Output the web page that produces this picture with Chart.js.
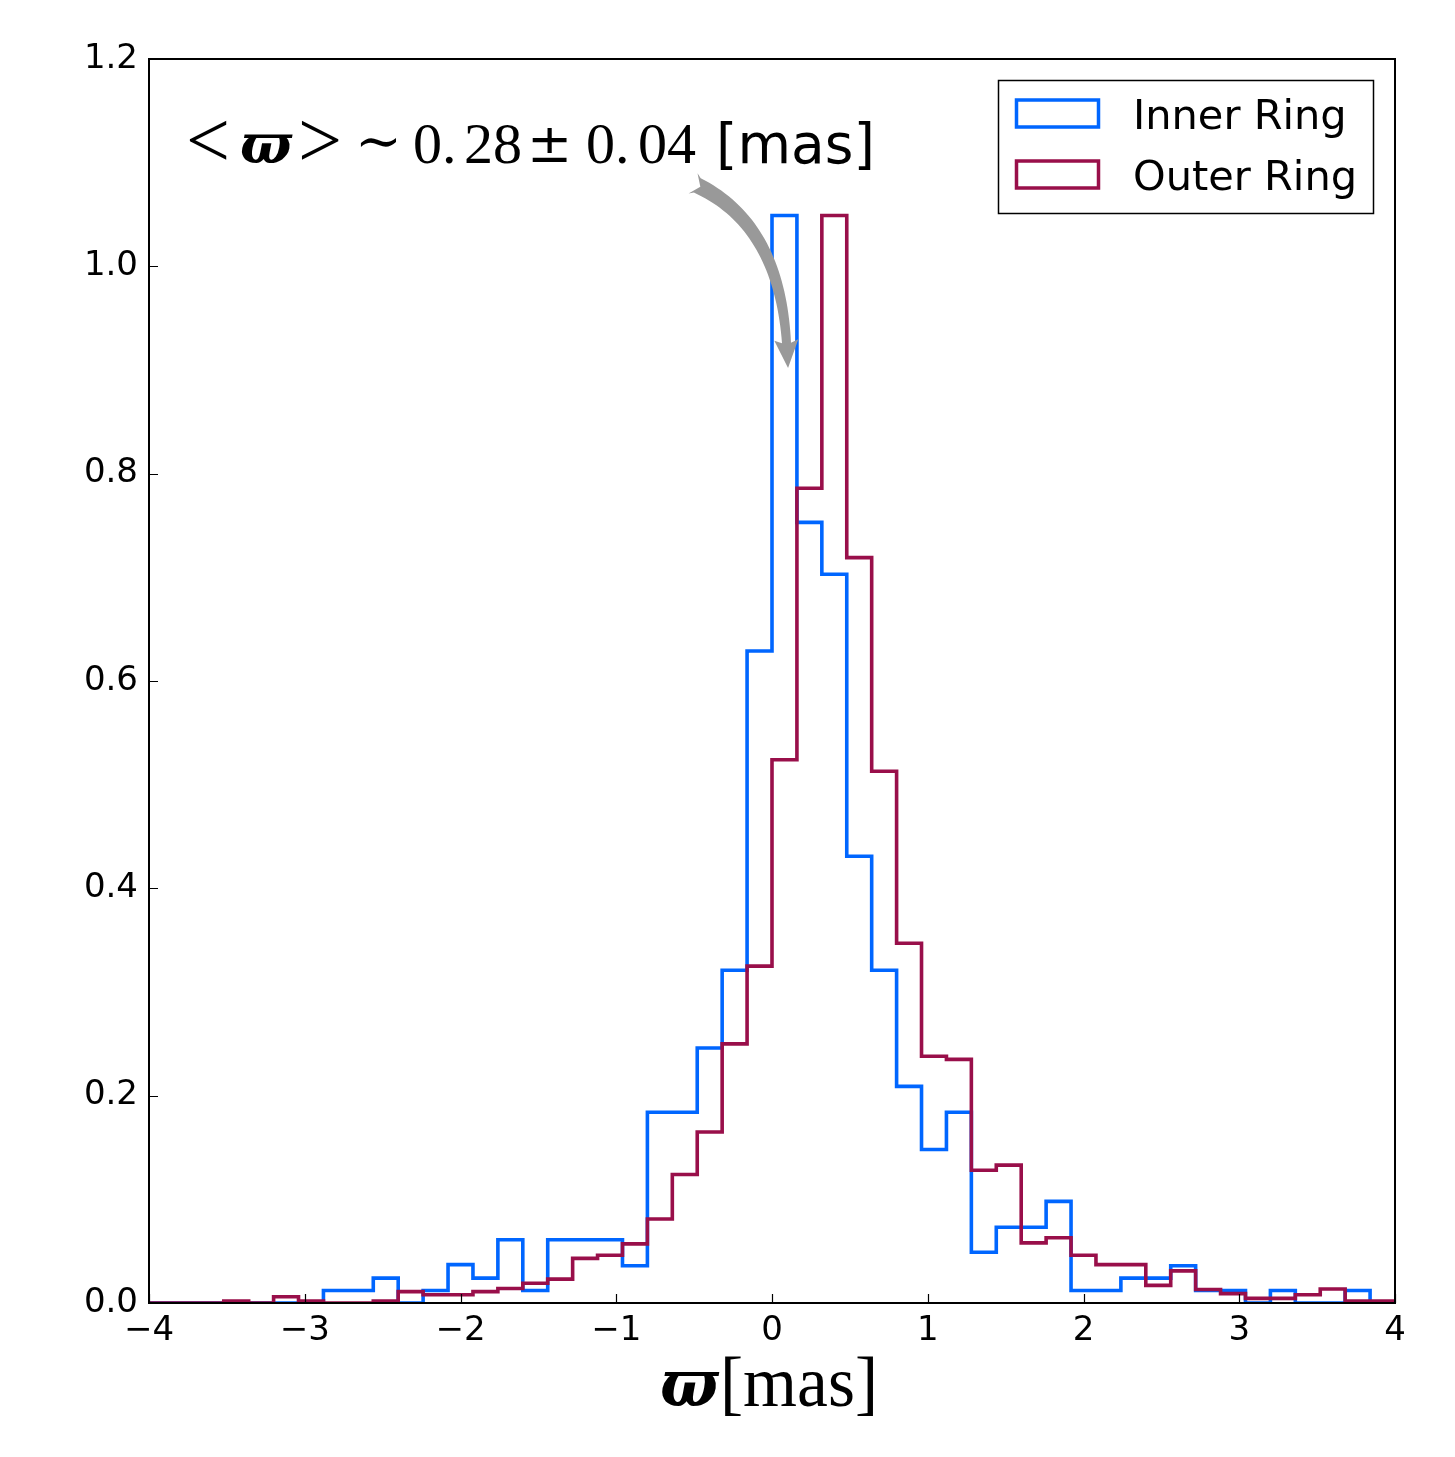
<!DOCTYPE html>
<html><head><meta charset="utf-8">
<script src="https://cdn.jsdelivr.net/npm/chart.js@4.4.0/dist/chart.umd.min.js"></script>
<style>html,body{margin:0;padding:0;background:#fff;}#wrap{width:1455px;height:1457px;}</style>
</head><body><div id="wrap"><canvas id="c" width="1455" height="1457"></canvas></div>
<script>
// ---- data ----
const binEdges = [-4.00,-3.84,-3.68,-3.52,-3.36,-3.20,-3.04,-2.88,-2.72,-2.56,-2.40,-2.24,-2.08,-1.92,-1.76,-1.60,-1.44,-1.28,-1.12,-0.96,-0.80,-0.64,-0.48,-0.32,-0.16,0.00,0.16,0.32,0.48,0.64,0.80,0.96,1.12,1.28,1.44,1.60,1.76,1.92,2.08,2.24,2.40,2.56,2.72,2.88,3.04,3.20,3.36,3.52,3.68,3.84,4.00];
const innerRing = [0,0,0,0,0,0,0,0.012,0.012,0.024,0,0.012,0.037,0.024,0.061,0.012,0.061,0.061,0.061,0.036,0.184,0.184,0.246,0.321,0.629,1.049,0.753,0.703,0.431,0.321,0.209,0.148,0.184,0.049,0.073,0.073,0.098,0.012,0.012,0.024,0.024,0.036,0.012,0.012,0,0.012,0,0,0.012,0];
const outerRing = [0,0,0,0.002,0,0.006,0.002,0,0,0.002,0.011,0.008,0.008,0.011,0.014,0.019,0.023,0.043,0.046,0.057,0.081,0.124,0.165,0.250,0.325,0.524,0.786,1.049,0.719,0.513,0.347,0.238,0.235,0.128,0.133,0.058,0.063,0.046,0.037,0.037,0.017,0.031,0.013,0.009,0.0045,0.0045,0.008,0.0135,0.002,0.002];
const xTicks = [-4,-3,-2,-1,0,1,2,3,4];
const yTicks = [0,0.2,0.4,0.6,0.8,1.0,1.2];
const seriesLabels = ['Inner Ring','Outer Ring'];
const seriesColors = ['#0066ff','#990f4a'];
const annotationArrow = {from:{x:-0.507,y:1.080}, ctrl:{x:0.045,y:1.043}, to:{x:0.103,y:0.902}};

function stepPoints(vals){
  const pts=[{x:binEdges[0],y:0}];
  for(let i=0;i<vals.length;i++) pts.push({x:binEdges[i],y:vals[i]});
  pts.push({x:binEdges[binEdges.length-1],y:0});
  return pts;
}

const decor = {
  id:'decor',
  afterDatasetsDraw(chart){
    const ctx=chart.ctx, a=chart.chartArea, xs=chart.scales.x, ys=chart.scales.y;
    ctx.save();
    // frame
    ctx.strokeStyle='#000'; ctx.lineWidth=2;
    ctx.strokeRect(a.left,a.top,a.right-a.left,a.bottom-a.top);
    // inward ticks
    ctx.lineWidth=1.2; ctx.beginPath();
    xTicks.forEach(v=>{const p=Math.round(xs.getPixelForValue(v))+0.5; ctx.moveTo(p,a.bottom); ctx.lineTo(p,a.bottom-9);});
    yTicks.forEach(v=>{const p=Math.round(ys.getPixelForValue(v))+0.5; ctx.moveTo(a.left,p); ctx.lineTo(a.left+9,p);});
    ctx.stroke();

    // arrow
    const P0={x:xs.getPixelForValue(annotationArrow.from.x),y:ys.getPixelForValue(annotationArrow.from.y)};
    const P1={x:xs.getPixelForValue(annotationArrow.ctrl.x),y:ys.getPixelForValue(annotationArrow.ctrl.y)};
    const T={x:xs.getPixelForValue(annotationArrow.to.x),y:ys.getPixelForValue(annotationArrow.to.y)};
    let dx=T.x-P1.x, dy=T.y-P1.y, dl=Math.hypot(dx,dy); dx/=dl; dy/=dl;
    const B={x:T.x-dx*25,y:T.y-dy*25};
    const N=40, L=[], R=[]; let t0=null;
    for(let i=0;i<=N;i++){
      const t=i/N, u=1-t;
      const px=u*u*P0.x+2*u*t*P1.x+t*t*B.x, py=u*u*P0.y+2*u*t*P1.y+t*t*B.y;
      let tx=2*u*(P1.x-P0.x)+2*t*(B.x-P1.x), ty=2*u*(P1.y-P0.y)+2*t*(B.y-P1.y);
      const tl=Math.hypot(tx,ty); tx/=tl; ty/=tl;
      const nx=-ty, ny=tx;
      let w=8-3.5*t; if(i===0) w=11;
      L.push({x:px+nx*w,y:py+ny*w}); R.push({x:px-nx*w,y:py-ny*w});
      if(i===0){ t0={x:tx,y:ty}; }
    }
    const nx=-dy, ny=dx;
    ctx.fillStyle='#999999';
    ctx.beginPath();
    ctx.moveTo(R[0].x,R[0].y);
    ctx.lineTo(P0.x+t0.x*8,P0.y+t0.y*8);
    ctx.lineTo(L[0].x,L[0].y);
    for(let i=1;i<=N;i++) ctx.lineTo(L[i].x,L[i].y);
    ctx.lineTo(B.x+nx*12-dx*3,B.y+ny*12-dy*3);
    ctx.lineTo(T.x,T.y);
    ctx.lineTo(B.x-nx*12-dx*3,B.y-ny*12-dy*3);
    for(let i=N;i>=0;i--) ctx.lineTo(R[i].x,R[i].y);
    ctx.closePath(); ctx.fill();

    // annotation text
    ctx.fillStyle='#000'; ctx.textAlign='left'; ctx.textBaseline='alphabetic';
    const by=163;
    const serif="58px 'Liberation Serif', 'DejaVu Serif', serif";
    const cmp="80px 'Liberation Serif', 'DejaVu Serif', serif";
    ctx.font=cmp; ctx.fillText('<',186,by+4,44);
    ctx.font="bold italic 54px 'DejaVu Serif', serif"; ctx.fillText('\u03D6',240,by,53);
    ctx.font=cmp; ctx.fillText('>',298,by+4,44);
    ctx.font="56px 'DejaVu Serif', serif"; ctx.fillText('\u223C',355,by-3,48);
    ctx.font=serif;
    ctx.fillText('0.',413,by); ctx.fillText('28',464,by);
    ctx.font="54px 'DejaVu Serif', serif"; ctx.fillText('\u00B1',527,by-1,50);
    ctx.font=serif;
    ctx.fillText('0.',586,by); ctx.fillText('04',638,by);
    ctx.font="55px 'DejaVu Sans', sans-serif"; ctx.fillText('[mas]',716,by);

    // x axis title
    const ty0=1406;
    ctx.font="bold italic 66px 'DejaVu Serif', serif"; ctx.fillText('\u03D6',660,ty0,58);
    ctx.font="72px 'Liberation Serif', 'DejaVu Serif', serif"; ctx.fillText('[mas]',720,ty0,158);

    // legend
    ctx.lineWidth=1.5; ctx.strokeStyle='#000';
    ctx.fillStyle='#fff';
    ctx.fillRect(998,80,376,134);
    ctx.strokeRect(998.5,80.5,375,133);
    ctx.font="41.5px 'DejaVu Sans', sans-serif"; ctx.textBaseline='alphabetic';
    chart.data.datasets.forEach((ds,i)=>{
      const yy=100+i*61;
      ctx.strokeStyle=ds.borderColor; ctx.lineWidth=3.5;
      ctx.strokeRect(1016.5,yy,82,27);
      ctx.fillStyle='#000';
      ctx.fillText(ds.label,1133,yy+29);
    });
    ctx.restore();
  }
};

new Chart(document.getElementById('c'),{
  type:'line',
  data:{datasets:[
    {label:seriesLabels[0],data:stepPoints(innerRing),borderColor:seriesColors[0],borderWidth:3.6,pointRadius:0,fill:false,stepped:'before',order:2,borderJoinStyle:'miter'},
    {label:seriesLabels[1],data:stepPoints(outerRing),borderColor:seriesColors[1],borderWidth:3.6,pointRadius:0,fill:false,stepped:'before',order:1,borderJoinStyle:'miter'}
  ]},
  options:{
    responsive:false, animation:false, devicePixelRatio:1,
    layout:{padding:{left:0,top:59,right:60,bottom:0}},
    plugins:{legend:{display:false},tooltip:{enabled:false}},
    scales:{
      x:{type:'linear',min:-4,max:4,
        afterBuildTicks:s=>{s.ticks=xTicks.map(v=>({value:v}));},
        afterFit:s=>{s.height=154;},
        grid:{display:false,drawTicks:false},border:{display:false},
        ticks:{autoSkip:false,maxRotation:0,padding:8,color:'#000',font:{family:'DejaVu Sans',size:34},
          callback:v=>(v<0?'\u2212'+Math.abs(v):String(v))}},
      y:{min:0,max:1.2,
        afterBuildTicks:s=>{s.ticks=yTicks.map(v=>({value:v}));},
        afterFit:s=>{s.width=149;},
        grid:{display:false,drawTicks:false},border:{display:false},
        ticks:{padding:11,color:'#000',font:{family:'DejaVu Sans',size:34},callback:v=>Number(v).toFixed(1)}}
    }
  },
  plugins:[decor]
});
</script></body></html>
